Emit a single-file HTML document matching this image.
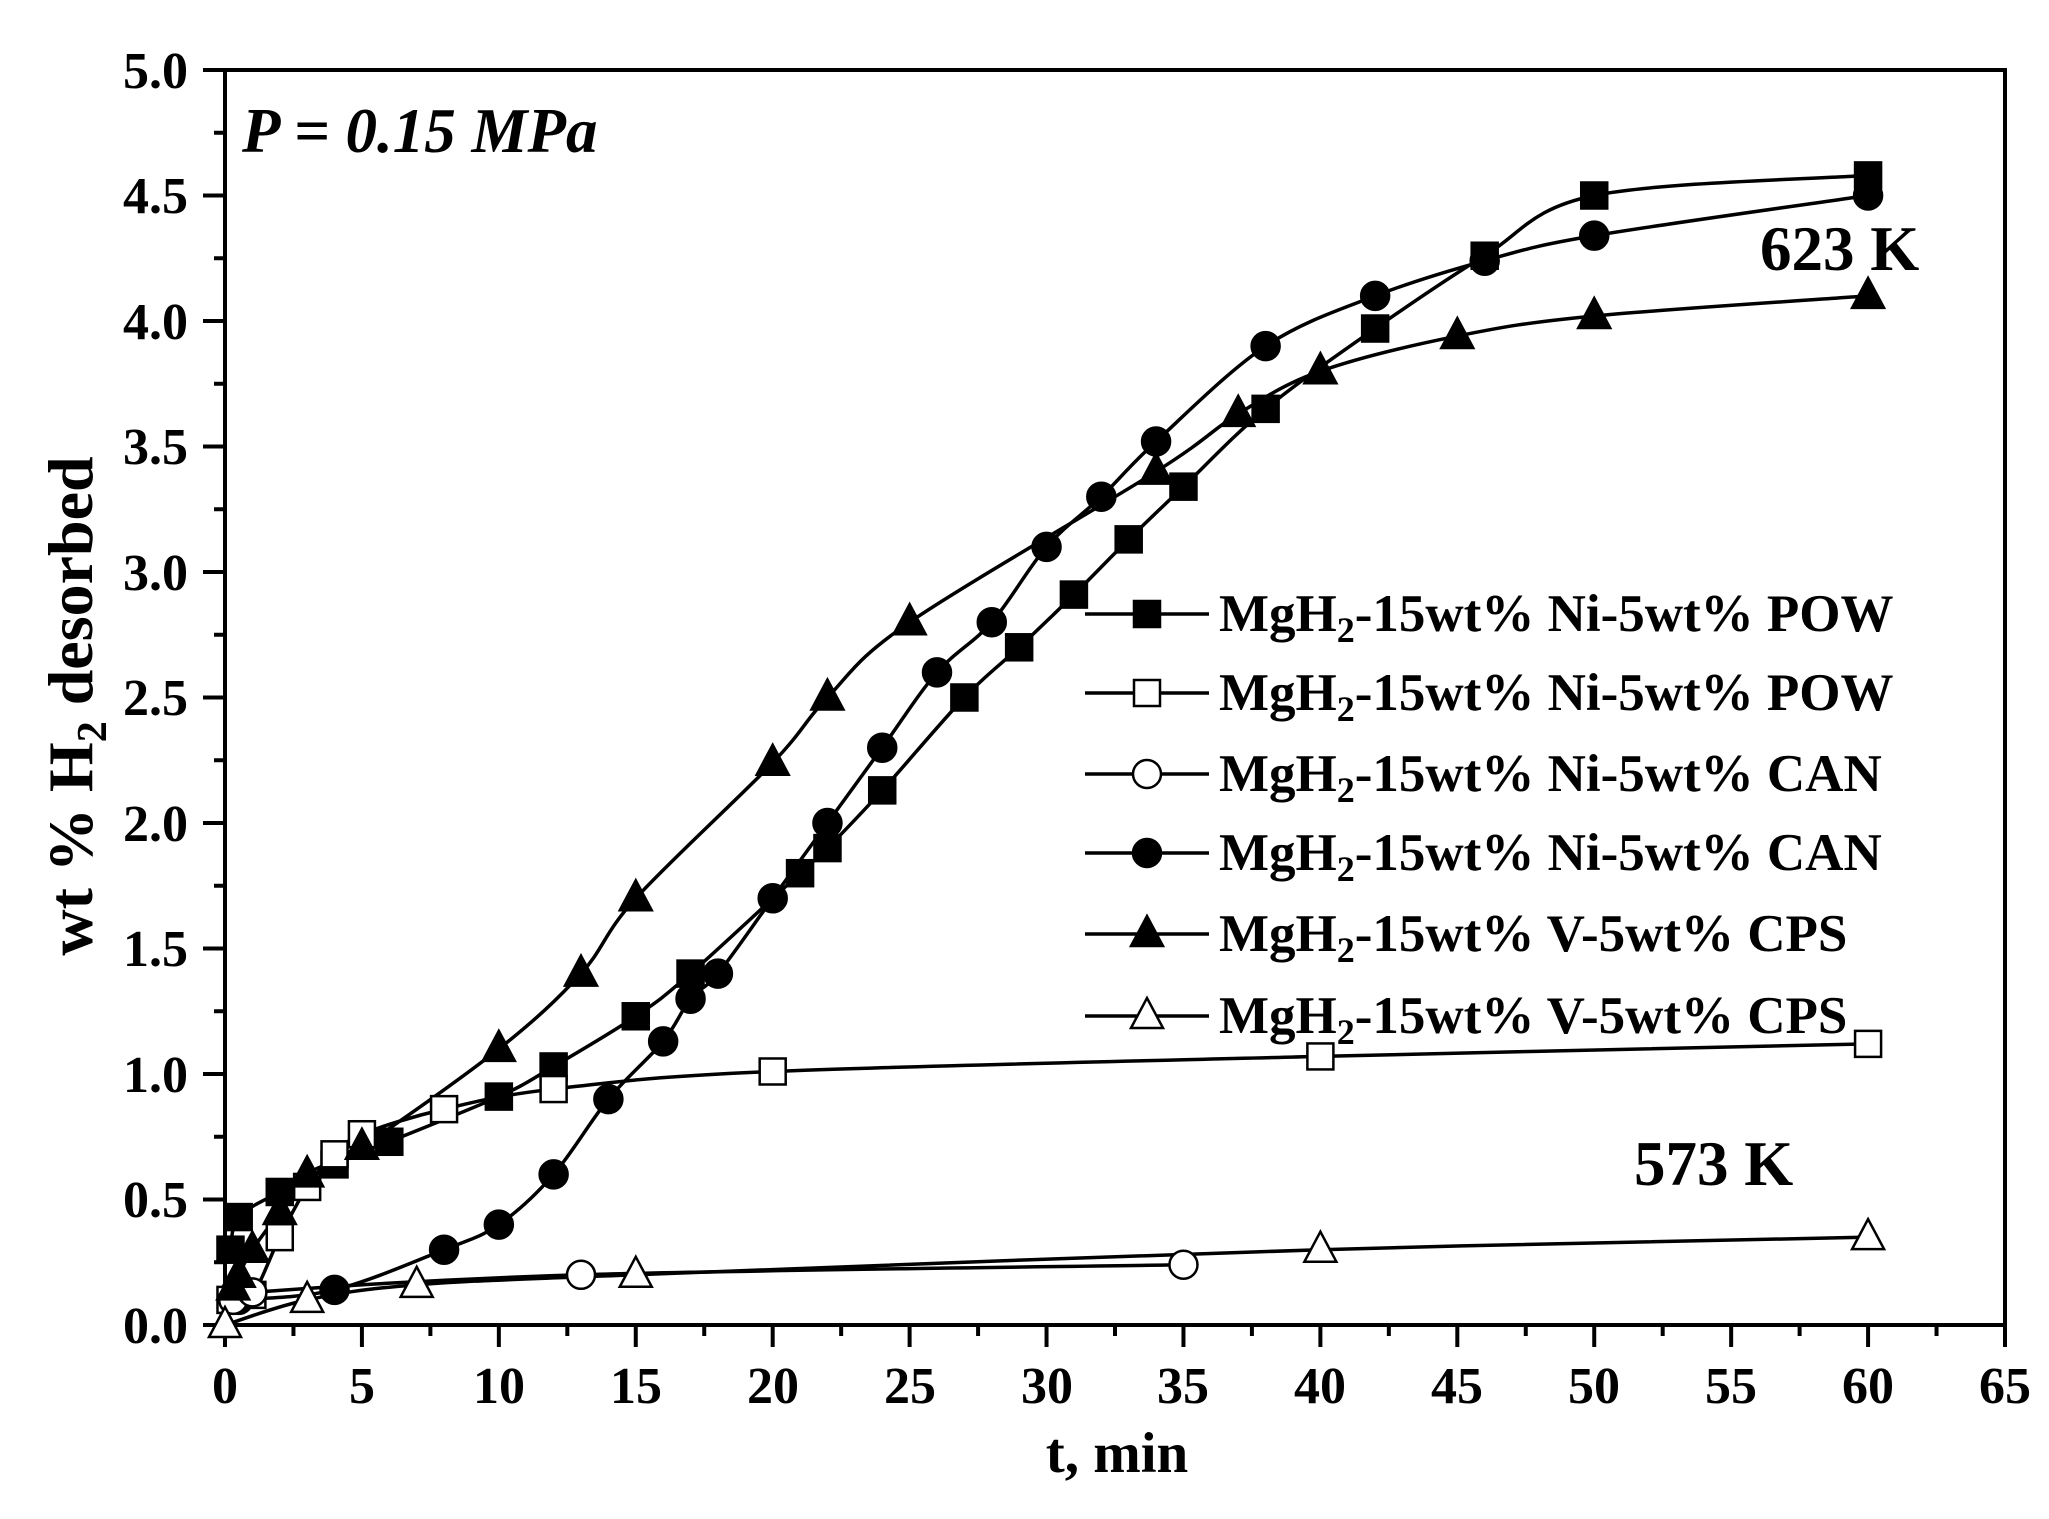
<!DOCTYPE html>
<html><head><meta charset="utf-8"><style>
html,body{margin:0;padding:0;background:#fff;}
svg{display:block;}
text{font-family:"Liberation Serif",serif;font-weight:bold;fill:#000;}
</style></head><body>
<svg id="s" width="2049" height="1519" viewBox="0 0 2049 1519" xmlns="http://www.w3.org/2000/svg">
<rect x="0" y="0" width="2049" height="1519" fill="#fff"/>
<rect x="225" y="70" width="1780" height="1255" fill="none" stroke="#000" stroke-width="4"/>
<g id="ticks" stroke="#000" stroke-width="4"></g>
<g id="curves" fill="none" stroke="#000" stroke-width="3.5"></g>
<g id="marks"></g>
<g font-size="52" text-anchor="end">
<text x="188" y="1343">0.0</text><text x="188" y="1217">0.5</text><text x="188" y="1092">1.0</text>
<text x="188" y="966">1.5</text><text x="188" y="841">2.0</text><text x="188" y="715">2.5</text>
<text x="188" y="590">3.0</text><text x="188" y="464">3.5</text><text x="188" y="339">4.0</text>
<text x="188" y="213">4.5</text><text x="188" y="88">5.0</text>
</g>
<g font-size="52" text-anchor="middle">
<text x="225" y="1403">0</text><text x="362" y="1403">5</text><text x="499" y="1403">10</text>
<text x="636" y="1403">15</text><text x="773" y="1403">20</text><text x="910" y="1403">25</text>
<text x="1047" y="1403">30</text><text x="1183" y="1403">35</text><text x="1320" y="1403">40</text>
<text x="1457" y="1403">45</text><text x="1594" y="1403">50</text><text x="1731" y="1403">55</text>
<text x="1868" y="1403">60</text><text x="2005" y="1403">65</text>
</g>
<text x="1117" y="1472" font-size="57" text-anchor="middle">t, min</text>
<text transform="translate(92,706) rotate(-90)" font-size="64" text-anchor="middle">wt % H<tspan font-size="42" dy="14">2</tspan><tspan dy="-14"> desorbed</tspan></text>
<text x="242" y="152" font-size="63" font-style="italic">P = 0.15 MPa</text>
<text x="1760" y="270" font-size="63">623 K</text>
<text x="1634" y="1185" font-size="63">573 K</text>
<g font-size="53">
<text x="1219" y="631">MgH<tspan font-size="36" dy="11">2</tspan><tspan dy="-11">-15wt% Ni-5wt% POW</tspan></text>
<text x="1219" y="710">MgH<tspan font-size="36" dy="11">2</tspan><tspan dy="-11">-15wt% Ni-5wt% POW</tspan></text>
<text x="1219" y="791">MgH<tspan font-size="36" dy="11">2</tspan><tspan dy="-11">-15wt% Ni-5wt% CAN</tspan></text>
<text x="1219" y="870">MgH<tspan font-size="36" dy="11">2</tspan><tspan dy="-11">-15wt% Ni-5wt% CAN</tspan></text>
<text x="1219" y="951">MgH<tspan font-size="36" dy="11">2</tspan><tspan dy="-11">-15wt% V-5wt% CPS</tspan></text>
<text x="1219" y="1033">MgH<tspan font-size="36" dy="11">2</tspan><tspan dy="-11">-15wt% V-5wt% CPS</tspan></text>
</g>
</svg>
<script>
var NS="http://www.w3.org/2000/svg";
function X(t){return 225+t*1780/65;}
function Y(v){return 1325-v*251;}
function el(p,tag,a){var e=document.createElementNS(NS,tag);for(var k in a)e.setAttribute(k,a[k]);p.appendChild(e);return e;}
var tk=document.getElementById('ticks');
for(var i=0;i<=26;i++){var x=225+i*1780/26;el(tk,'line',{x1:x,y1:1325,x2:x,y2:1325+(i%2?11:22)});}
for(var i=0;i<=20;i++){var y=1325-i*62.75;el(tk,'line',{x1:225,y1:y,x2:225-(i%2?11:22),y2:y});}
var S={
fsq:[[0.2,0.3],[0.5,0.43],[2,0.53],[4,0.64],[6,0.73],[10,0.91],[12,1.03],[15,1.23],[17,1.4],[21,1.8],[22,1.9],[24,2.13],[27,2.5],[29,2.7],[31,2.91],[33,3.13],[35,3.34],[38,3.65],[42,3.97],[46,4.26],[50,4.5],[60,4.58]],
osq:[[0.2,0.1],[1,0.12],[2,0.35],[3,0.55],[4,0.68],[5,0.76],[8,0.86],[12,0.94],[20,1.01],[40,1.07],[60,1.12]],
fci:[[0.5,0.1],[4,0.14],[8,0.3],[10,0.4],[12,0.6],[14,0.9],[16,1.13],[17,1.3],[18,1.4],[20,1.7],[22,2.0],[24,2.3],[26,2.6],[28,2.8],[30,3.1],[32,3.3],[34,3.52],[38,3.9],[42,4.1],[46,4.24],[50,4.34],[60,4.5]],
oci:[[0.3,0.1],[1,0.13],[13,0.2],[35,0.24]],
ftr:[[0.3,0.15],[0.5,0.2],[1,0.3],[2,0.45],[3,0.6],[5,0.71],[10,1.1],[13,1.4],[15,1.7],[20,2.24],[22,2.5],[25,2.8],[34,3.4],[37,3.63],[40,3.8],[45,3.94],[50,4.02],[60,4.1]],
otr:[[0,0],[3,0.1],[7,0.16],[15,0.2],[40,0.3],[60,0.35]]};
var cv=document.getElementById('curves'),mk=document.getElementById('marks');
function path(pts){var p=pts.map(function(a){return[X(a[0]),Y(a[1])];});var d="M"+p[0][0]+","+p[0][1];
for(var i=0;i<p.length-1;i++){var p0=p[i-1]||p[i],p1=p[i],p2=p[i+1],p3=p[i+2]||p2;
d+=" C"+(p1[0]+(p2[0]-p0[0])/6)+","+(p1[1]+(p2[1]-p0[1])/6)+" "+(p2[0]-(p3[0]-p1[0])/6)+","+(p2[1]-(p3[1]-p1[1])/6)+" "+p2[0]+","+p2[1];}
return d;}
function marker(type,x,y){var f=type[0]=='f'?'#000':'#fff',sh=type.slice(1),a={fill:f,stroke:'#000','stroke-width':2.5};
if(sh=='sq'){a.x=x-13;a.y=y-13;a.width=26;a.height=26;el(mk,'rect',a);}
else if(sh=='ci'){a.cx=x;a.cy=y;a.r=14;el(mk,'circle',a);}
else{a.points=(x)+","+(y-18)+" "+(x-16)+","+(y+12)+" "+(x+16)+","+(y+12);el(mk,'polygon',a);}}
for(var k in S){el(cv,'path',{d:path(S[k])});S[k].forEach(function(a){marker(k,X(a[0]),Y(a[1]));});}
var L=['fsq','osq','oci','fci','ftr','otr'],ly=[614,693,774,853,934,1016];
for(var i=0;i<6;i++){el(cv,'line',{x1:1085,y1:ly[i],x2:1209,y2:ly[i]});marker(L[i],1147,ly[i]);}
</script>
</body></html>
